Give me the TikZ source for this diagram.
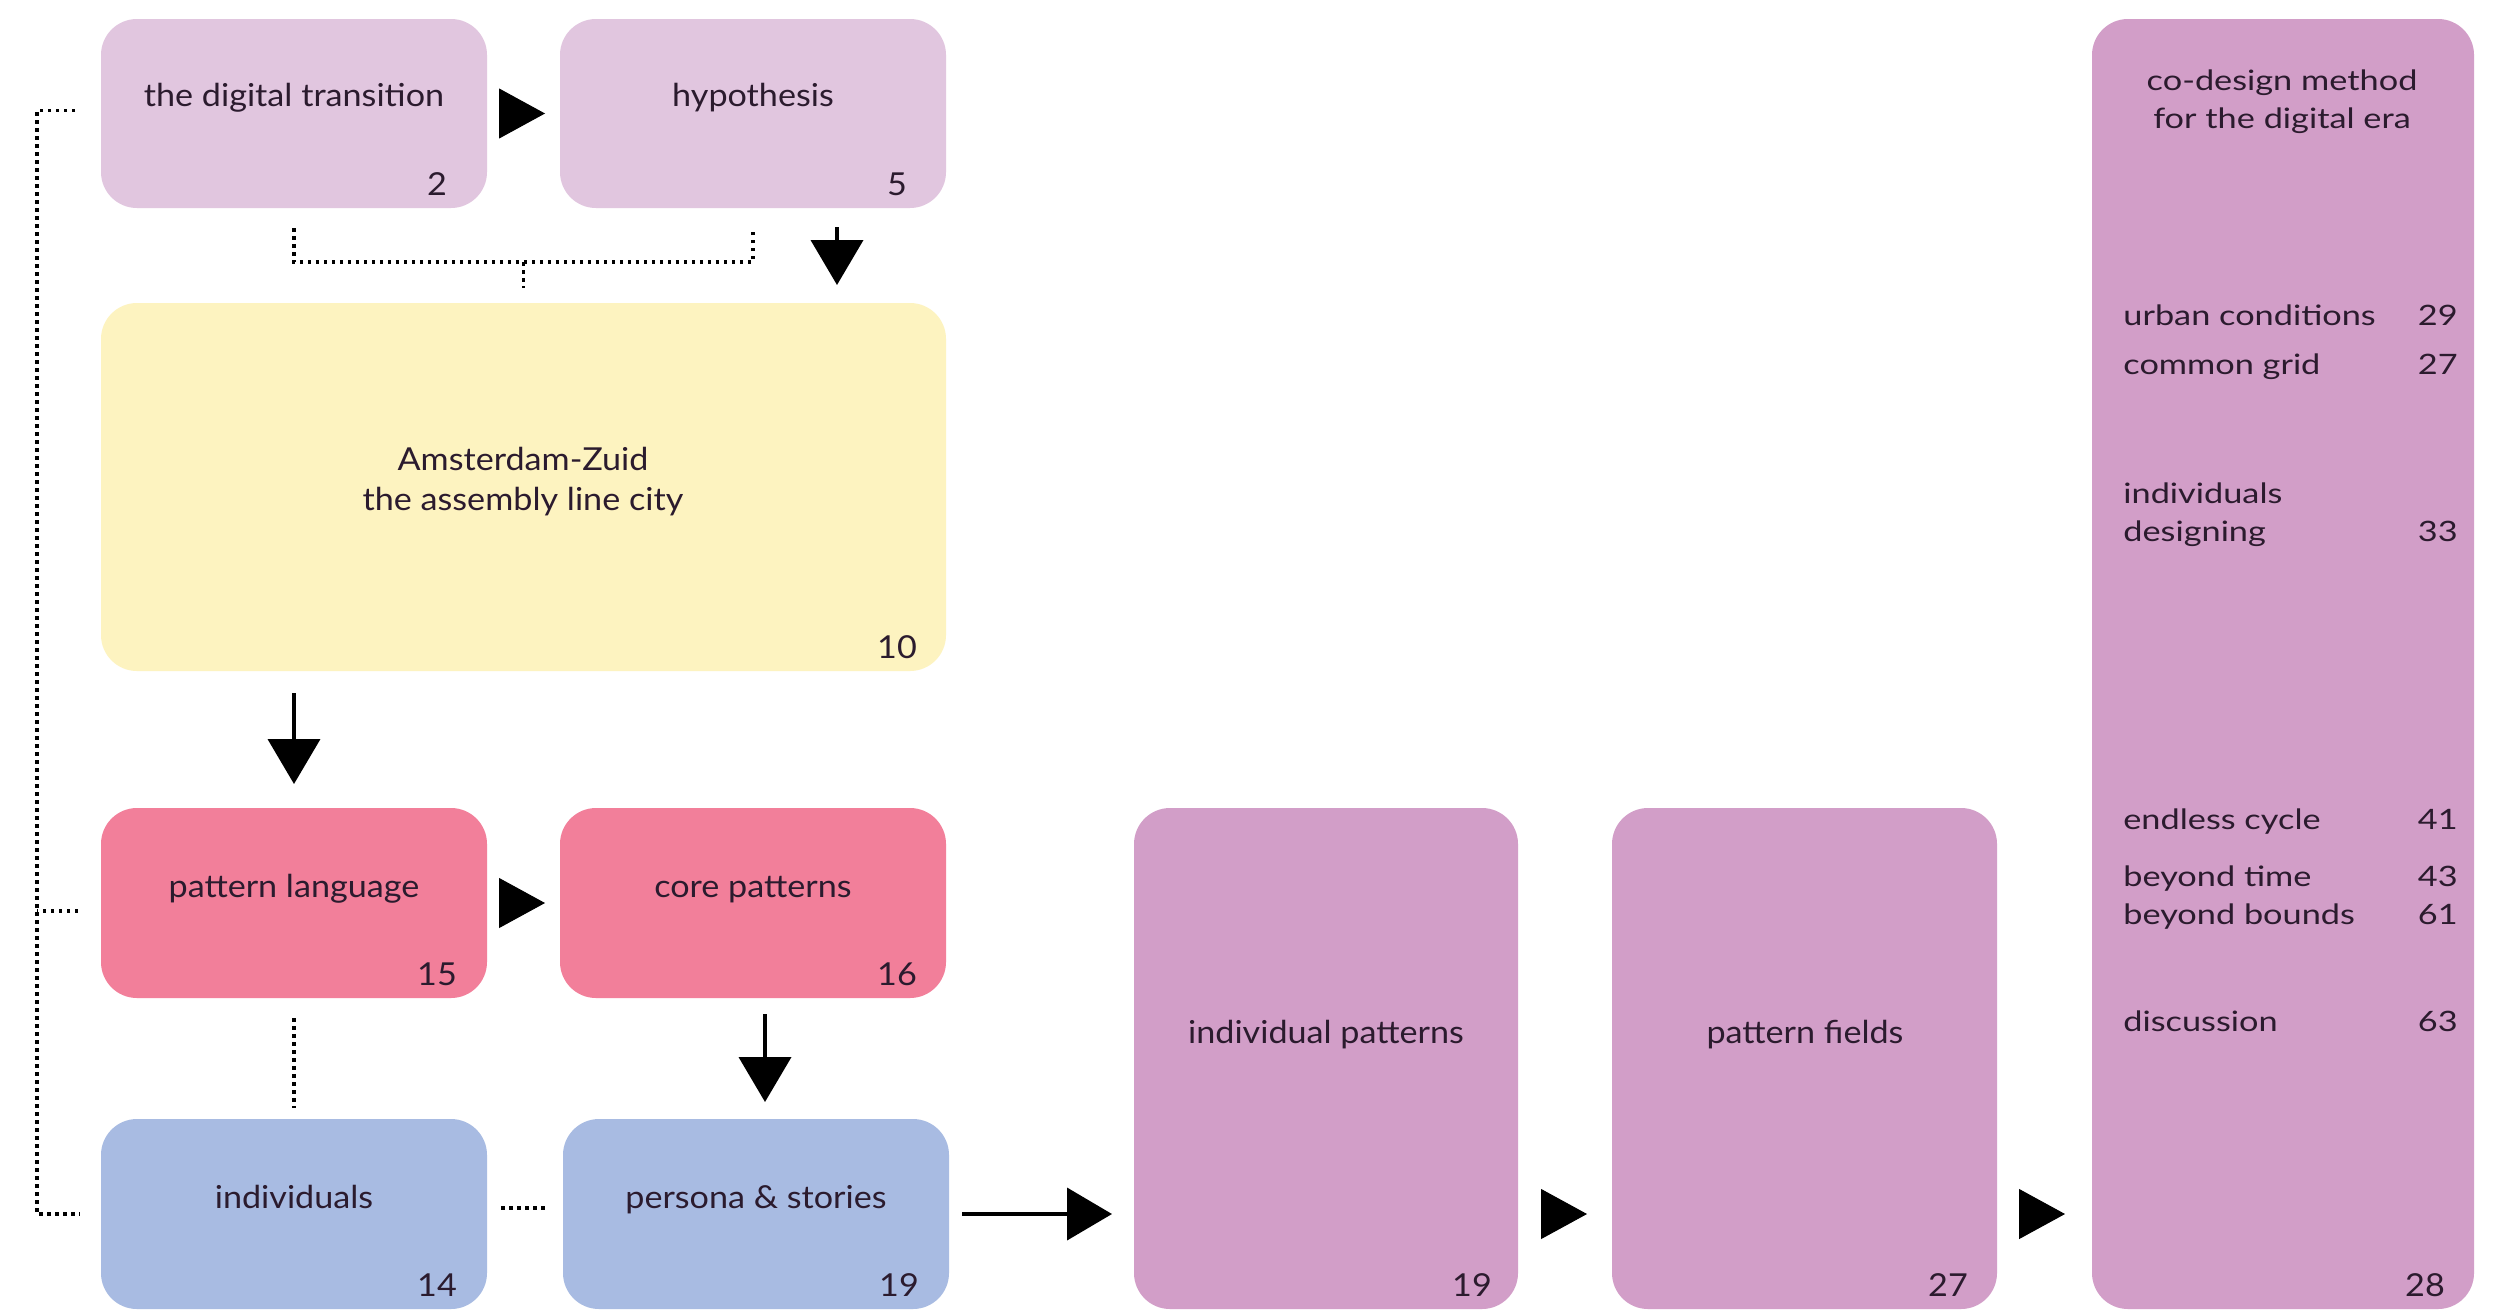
\documentclass[tikz,border=0pt]{standalone}
\usepackage{fontspec}
\setmainfont{Lato}
\newfontfamily\labelfont[FakeStretch=1.08]{Lato}
\newfontfamily\widefont[FakeStretch=1.22]{Lato}
\usetikzlibrary{arrows.meta,calc,fit}

\definecolor{lilac}{HTML}{E1C6DF}
\definecolor{sand}{HTML}{FDF3C0}
\definecolor{rose}{HTML}{F27F9A}
\definecolor{sky}{HTML}{A8BBE2}
\definecolor{mauve}{HTML}{D29EC8}
\definecolor{ink}{HTML}{2B1B2E}

\tikzset{
  card/.style={inner sep=0pt, outer sep=0pt, rounded corners=0.72cm, draw=none},
  lbl/.style={font=\labelfont\fontsize{18}{21}\selectfont, text=ink, anchor=mid, inner sep=0pt},
  num/.style={font=\labelfont\fontsize{18}{21}\selectfont, text=ink, anchor=base, inner sep=0pt},
  toc/.style={font=\widefont\fontsize{16}{19}\selectfont, text=ink, anchor=mid west, inner sep=0pt},
  tocnum/.style={font=\widefont\fontsize{16}{19}\selectfont, text=ink, anchor=mid east, inner sep=0pt},
  flow/.style={line width=0.08cm, -{Triangle[length=0.9cm,width=1.04cm]}},
  tipflow/.style={line width=0.02cm, -{Triangle[length=0.92cm,width=1cm]}},
  dots/.style={line width=0.07cm, dash pattern=on 0.07cm off 0.09cm}
}

\begin{document}
\begin{tikzpicture}[x=0.02cm, y=-0.02cm]
  \fill[white] (0,0) rectangle (2493,1312);
  \useasboundingbox (0,0) rectangle (2493,1312);

  % cards
  \node[card, fill=lilac, fit={(101,19) (487,208)}] (A) {};
  \node[card, fill=lilac, fit={(560,19) (946,208)}] (B) {};
  \node[card, fill=sand,  fit={(101,303) (946,671)}] (Y) {};
  \node[card, fill=rose,  fit={(101,808) (487,998)}] (PL) {};
  \node[card, fill=rose,  fit={(560,808) (946,998)}] (CP) {};
  \node[card, fill=sky,   fit={(101,1119) (487,1309)}] (IN) {};
  \node[card, fill=sky,   fit={(563,1119) (949,1309)}] (PS) {};
  \node[card, fill=mauve, fit={(1134,808) (1518,1309)}] (IP) {};
  \node[card, fill=mauve, fit={(1612,808) (1997,1309)}] (PF) {};
  \node[card, fill=mauve, fit={(2092,19) (2474,1309)}] (CD) {};

  % titles and page numbers
  \node[lbl] at (294,102) {the digital transition};
  \node[num] at (437,195) {2};
  \node[lbl] at (753,102) {hypothesis};
  \node[num] at (897,195) {5};
  \node[lbl] at (523,466) {Amsterdam-Zuid};
  \node[lbl] at (523,506) {the assembly line city};
  \node[num] at (897,658) {10};
  \node[lbl] at (294,893) {pattern language};
  \node[num] at (437,985) {15};
  \node[lbl] at (753,893) {core patterns};
  \node[num] at (897,985) {16};
  \node[lbl] at (294,1204) {individuals};
  \node[num] at (437,1296) {14};
  \node[lbl] at (756,1204) {persona \& stories};
  \node[num] at (899,1296) {19};
  \node[lbl] at (1326,1039) {individual patterns};
  \node[num] at (1472,1296) {19};
  \node[lbl] at (1805,1039) {pattern fields};
  \node[num] at (1948,1296) {27};

  % contents of the method card
  \node[toc, anchor=mid] at (2282,86) {co-design method};
  \node[toc, anchor=mid] at (2282,124) {for the digital era};
  \node[toc] at (2123,321) {urban conditions};
  \node[tocnum] at (2458,321) {29};
  \node[toc] at (2123,370) {common grid};
  \node[tocnum] at (2458,370) {27};
  \node[toc] at (2123,499) {individuals};
  \node[toc] at (2123,537) {designing};
  \node[tocnum] at (2458,537) {33};
  \node[toc] at (2123,825) {endless cycle};
  \node[tocnum] at (2458,825) {41};
  \node[toc] at (2123,882) {beyond time};
  \node[tocnum] at (2458,882) {43};
  \node[toc] at (2123,920) {beyond bounds};
  \node[tocnum] at (2458,920) {61};
  \node[toc] at (2123,1027) {discussion};
  \node[tocnum] at (2458,1027) {63};
  \node[num] at (2425,1296) {28};

  % solid connectors
  \draw[tipflow, shorten <=0.24cm, shorten >=0.3cm] (A.east) -- (B.west);
  \draw[tipflow, shorten <=0.24cm, shorten >=0.3cm] (PL.east) -- (CP.west);
  \draw[flow, shorten >=0.36cm] (B.south east) ++(-109,19) coordinate (b1) -- (b1 |- Y.north);
  \draw[flow, shorten <=0.44cm, shorten >=0.48cm] (Y.south -| PL.north) -- (PL.north);
  \draw[flow, shorten <=0.32cm, shorten >=0.34cm] (CP.south east) ++(-181,0) coordinate (c1) -- (c1 |- PS.north);
  \draw[flow, shorten <=0.26cm, shorten >=0.44cm] (PS.east) -- (PS.east -| IP.west);
  \draw[tipflow, shorten <=0.48cm, shorten >=0.5cm] (PS.east -| IP.east) -- (PS.east -| PF.west);
  \draw[tipflow, shorten <=0.48cm, shorten >=0.54cm] (PS.east -| PF.east) -- (PS.east -| CD.west);

  % dotted links
  \draw[dots] ($(A.south)+(0,20)$) -- ($(A.south)+(0,54)$) -| ($(B.south)+(0,20)$);
  \draw[dots] ($(A.south)!0.5!(B.south)+(0,54)$) -- ($(Y.north)+(0,-15)$);
  \draw[dots] ($(PL.south)+(0,20)$) -- ($(IN.north)+(0,-11)$);
  \draw[dots] ($(IN.east)+(14,-6)$) -- ($(PS.west)+(-18,-6)$);
  \draw[dots] ($(A.west)+(-26,-3)$) -- ($(A.west)+(-64,-3)$) coordinate (l1)
    -- (l1 |- IN.west) -- ($(IN.west)+(-21,0)$);
  \draw[dots] ($(PL.west)+(-23,8)$) -- ($(PL.west)+(-64,8)$);
\end{tikzpicture}
\end{document}
